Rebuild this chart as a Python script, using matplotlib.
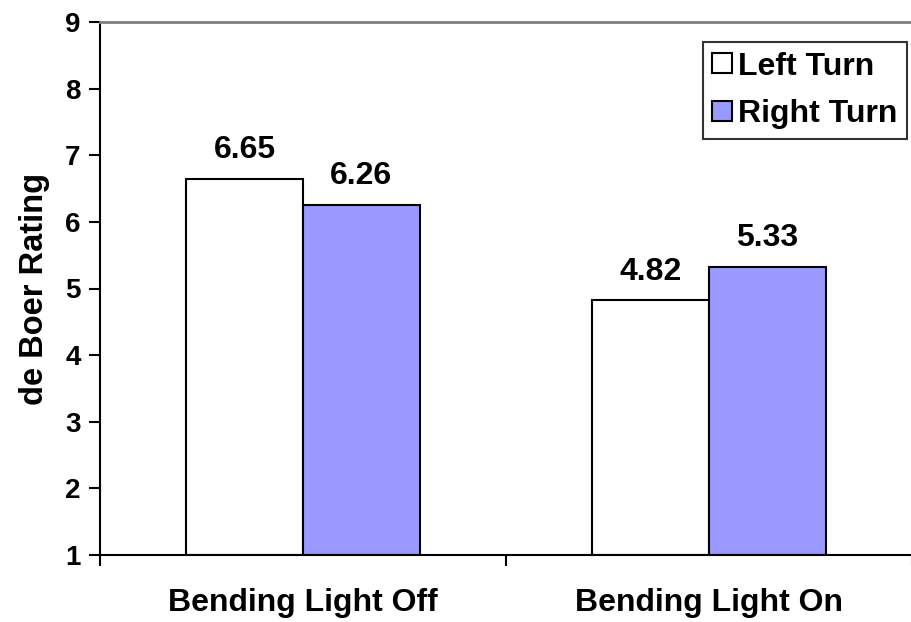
import matplotlib
matplotlib.use('Agg')
import matplotlib.pyplot as plt
import numpy as np

plt.rcParams['font.family'] = ['Liberation Sans', 'DejaVu Sans']
plt.rcParams['font.weight'] = 'bold'

categories = ['Bending Light Off', 'Bending Light On']
series_names = ['Left Turn', 'Right Turn']
left_turn = [6.65, 4.82]
right_turn = [6.26, 5.33]
colors = ['#FFFFFF', '#9999FF']

fig = plt.figure(figsize=(9.12, 6.22), dpi=100)
ax = fig.add_axes([100/912, 1-555/622, 812/912, (555-22)/622])

x = np.arange(len(categories))
w = 0.287
b1 = ax.bar(x - w/2, np.array(left_turn) - 1, w, bottom=1, color=colors[0],
            edgecolor='black', linewidth=1.5, label=series_names[0])
b2 = ax.bar(x + w/2, np.array(right_turn) - 1, w, bottom=1, color=colors[1],
            edgecolor='black', linewidth=1.5, label=series_names[1])

for bars, vals in [(b1, left_turn), (b2, right_turn)]:
    for bar, v in zip(bars, vals):
        ax.text(bar.get_x() + bar.get_width()/2, v + 0.2, f'{v:.2f}',
                ha='center', va='bottom', fontsize=23, fontweight='bold')

ax.set_ylim(1, 9)
ax.set_yticks(range(1, 10))
ax.set_xlim(-0.5, 1.475)
ax.set_xticks(x)
ax.set_xticklabels(categories)
ax.set_xticks([-0.5, 0.5, 1.5], minor=True)
ax.tick_params(axis='x', which='major', length=0, pad=24, labelsize=23)
ax.tick_params(axis='x', which='minor', length=8, width=1.5, direction='out')
ax.tick_params(axis='y', length=8, width=1.5, direction='out', labelsize=20, pad=6)
for lab in ax.get_xticklabels() + ax.get_yticklabels():
    lab.set_fontweight('bold')

ax.set_ylabel('de Boer Rating', fontsize=23.5, fontweight='bold', labelpad=11)

ax.spines['right'].set_visible(False)
ax.spines['top'].set_color('#808080')
ax.spines['top'].set_linewidth(2)
ax.spines['left'].set_linewidth(1.5)
ax.spines['bottom'].set_linewidth(1.5)

leg = ax.legend(loc='upper right', bbox_to_anchor=(907/912, 1-42/622),
                bbox_transform=fig.transFigure, fontsize=23, frameon=True,
                fancybox=False, edgecolor='black', handlelength=0.6,
                handleheight=0.6, handletextpad=0.2, borderpad=0.3,
                labelspacing=0.55, borderaxespad=0)
leg.get_frame().set_linewidth(1.5)
for t in leg.get_texts():
    t.set_fontweight('bold')

plt.savefig('out.png', dpi=100)
